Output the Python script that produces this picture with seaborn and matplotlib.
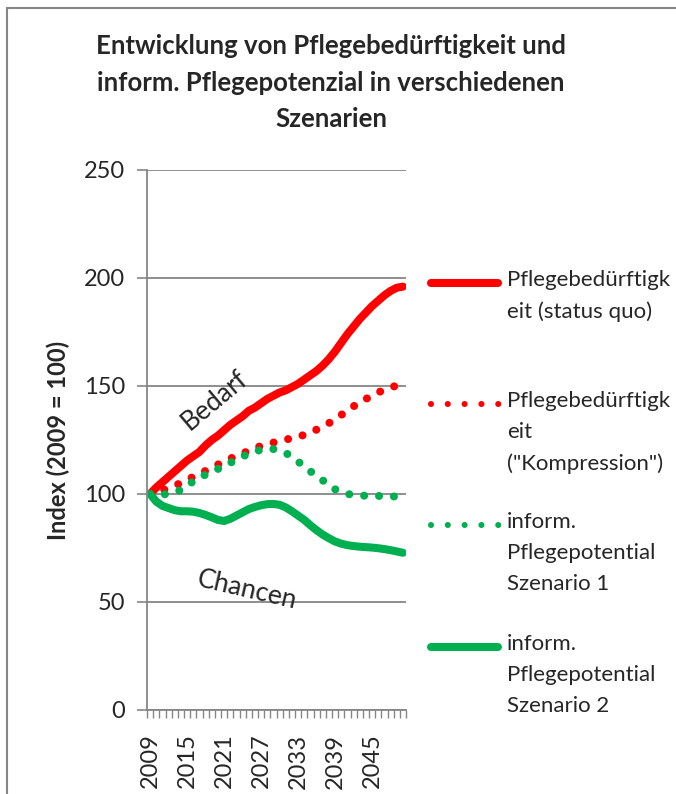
import numpy as np
import pandas as pd
import seaborn as sns
import matplotlib.pyplot as plt
from matplotlib.lines import Line2D

years = list(range(2009, 2051))

status_quo = [100, 103, 105.5, 108, 110.5, 113, 115.5, 117.5, 119.5, 122.5,
              125, 127, 129.5, 132, 134, 136, 138.5, 140, 142, 144,
              145.5, 147, 148, 149.5, 151, 153, 155, 157, 159.5, 162.5,
              166, 170, 174, 177.5, 181, 184, 187, 189.5, 192, 194,
              195.5, 196]
kompression = [100, 100.8, 101.7, 102.8, 104, 105, 106.4, 108, 109.4, 110.7,
               112.2, 113.6, 115.2, 116.4, 117.5, 118.8, 120, 121.3, 122.2, 123,
               123.8, 124.6, 125.2, 125.8, 126.4, 127.4, 128.4, 129.8, 131.2, 132.8,
               134.6, 136.6, 138.6, 140.6, 142.4, 144, 145.5, 147, 148.3, 149.3,
               150.2, 150.8]
szenario_1 = [100, 99.6, 99.6, 100.3, 101, 101.8, 103.5, 106, 107.4, 109,
              110.3, 111.6, 113, 114.4, 116, 117.4, 118.6, 119.6, 120.5, 121.1,
              120.8, 120.2, 119, 117.2, 115, 112.8, 110.5, 108.4, 106.3, 104.2,
              102.2, 100.8, 100, 99.6, 99.3, 99.2, 99.2, 99.1, 99, 98.9,
              98.8, 98.7]
szenario_2 = [100, 96.5, 94.5, 93.5, 92.5, 92, 92, 91.8, 91.2, 90.3,
              89.2, 88, 87.5, 88.5, 90, 91.5, 93, 94, 94.8, 95.3,
              95.4, 95, 93.8, 92, 90, 88, 85.5, 83.2, 81.2, 79.5,
              78, 77, 76.3, 75.9, 75.6, 75.4, 75.2, 74.9, 74.5, 74,
              73.4, 72.8]

series = ["status_quo", "kompression", "szenario_1", "szenario_2"]
labels = ["Pflegebedürftigk\neit (status quo)",
          "Pflegebedürftigk\neit\n(\"Kompression\")",
          "inform.\nPflegepotential\nSzenario 1",
          "inform.\nPflegepotential\nSzenario 2"]
colors = ["#FF0000", "#FF0000", "#00B050", "#00B050"]
dotted = [False, True, True, False]

df = pd.DataFrame({"Jahr": years, "status_quo": status_quo, "kompression": kompression,
                   "szenario_1": szenario_1, "szenario_2": szenario_2})

sns.set_theme(style="white")
plt.rcParams["font.family"] = ["Lato", "DejaVu Sans"]
grau = "#868686"

fig = plt.figure(figsize=(6.76, 7.94), dpi=100)
ax = fig.add_axes([147 / 676, 1 - 710 / 794, 259 / 676, 540 / 794])

for col, color, dot in zip(series, colors, dotted):
    if dot:
        stil = dict(linestyle=(0, (0.001, 1.85)), dash_capstyle="round")
    else:
        stil = dict(solid_capstyle="round")
    sns.lineplot(data=df, x="Jahr", y=col, color=color, linewidth=5.8, ax=ax, legend=False, **stil)

ax.set_xlim(2008.5, 2050.5)
ax.set_ylim(0, 250)
ax.set_xticks(range(2009, 2051, 6))
ax.set_xticks(np.arange(2008.5, 2051, 1), minor=True)
ax.set_yticks(range(0, 251, 50))
ax.tick_params(axis="x", which="major", length=0, labelsize=17, pad=17, labelrotation=90)
ax.tick_params(axis="x", which="minor", length=6, width=1, color=grau, direction="out", bottom=True)
ax.tick_params(axis="y", length=7, width=1.2, color=grau, direction="out", left=True, labelsize=17, pad=9)
ax.grid(axis="y", color=grau, linewidth=1.3)
ax.set_xlabel("")
ax.set_ylabel("Index (2009 = 100)", fontsize=17, fontweight="bold", labelpad=10)
for s in ["top", "right"]:
    ax.spines[s].set_visible(False)
for s in ["left", "bottom"]:
    ax.spines[s].set_color(grau)
    ax.spines[s].set_linewidth(1.3)

ax.text(2019.4, 143.5, "Bedarf", rotation=40, ha="center", va="center", fontsize=19)
ax.text(2024.7, 55.6, "Chancen", rotation=-13, ha="center", va="center", fontsize=19)

fig.text(0.49, 1 - 34 / 794,
         "Entwicklung von Pflegebedürftigkeit und\ninform. Pflegepotenzial in verschiedenen\nSzenarien",
         ha="center", va="top", fontsize=18.5, fontweight="bold", linespacing=1.63)

# Legende von Hand
legend_y = [283, 404, 525, 647]
for lab, color, dot, yp in zip(labels, colors, dotted, legend_y):
    yf = 1 - yp / 794
    if dot:
        h = Line2D([431 / 676, 499 / 676], [yf, yf], transform=fig.transFigure, color=color,
                   linewidth=4.4, linestyle=(0, (0.001, 2.75)), dash_capstyle="round")
    else:
        h = Line2D([431 / 676, 498 / 676], [yf, yf], transform=fig.transFigure, color=color,
                   linewidth=5.8, solid_capstyle="round")
    fig.add_artist(h)
    fig.text(507 / 676, 1 - (yp - 13) / 794, lab, ha="left", va="top", fontsize=16, linespacing=1.68)

# Rahmen
fig.add_artist(Line2D([7 / 676, 1], [1 - 8 / 794, 1 - 8 / 794], transform=fig.transFigure, color=grau, linewidth=1.5))
fig.add_artist(Line2D([7 / 676, 7 / 676], [0, 1 - 8 / 794], transform=fig.transFigure, color=grau, linewidth=1.5))

fig.savefig("out.png", dpi=100)
